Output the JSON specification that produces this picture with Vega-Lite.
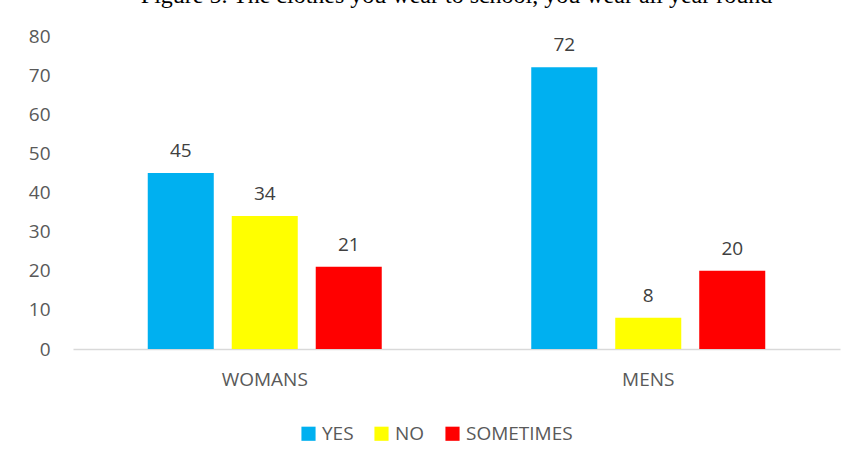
{
  "$schema": "https://vega.github.io/schema/vega-lite/v6.json",
  "autosize": "none",
  "width": 767,
  "height": 313,
  "padding": {"left": 73, "top": 36, "right": 16, "bottom": 119},
  "background": "white",
  "title": {"text": "Figure 5. The clothes you wear to school, you wear all year round", "font": "Liberation Serif", "fontSize": 24, "fontWeight": "normal", "color": "black", "anchor": "middle", "baseline": "alphabetic", "offset": 0},
  "config": {"view": {"stroke": null}, "font": "Open Sans"},
  "data": {"values": [
    {"group": "WOMANS", "answer": "YES", "value": 45},
    {"group": "WOMANS", "answer": "NO", "value": 34},
    {"group": "WOMANS", "answer": "SOMETIMES", "value": 21},
    {"group": "MENS", "answer": "YES", "value": 72},
    {"group": "MENS", "answer": "NO", "value": 8},
    {"group": "MENS", "answer": "SOMETIMES", "value": 20}
  ]},
  "encoding": {
    "x": {"field": "group", "type": "nominal", "sort": ["WOMANS", "MENS"], "scale": {"paddingInner": 0, "paddingOuter": 0},
      "axis": {"title": null, "labelAngle": 0, "labelFontSize": 19, "labelColor": "#595959", "labelPadding": 21, "ticks": false, "domainColor": "#d9d9d9", "domainWidth": 1.5}},
    "xOffset": {"field": "answer", "type": "nominal", "sort": ["YES", "NO", "SOMETIMES"], "scale": {"paddingInner": 0.214, "paddingOuter": 0.89}},
    "y": {"field": "value", "type": "quantitative", "scale": {"domain": [0, 80]},
      "axis": {"title": null, "values": [0,10,20,30,40,50,60,70,80], "labelOverlap": false, "grid": false, "domain": false, "ticks": false, "labelFontSize": 19, "labelColor": "#595959", "labelPadding": 23}}
  },
  "layer": [
    {"mark": {"type": "bar"},
     "encoding": {"color": {"field": "answer", "type": "nominal", "sort": ["YES", "NO", "SOMETIMES"],
       "scale": {"domain": ["YES", "NO", "SOMETIMES"], "range": ["#00b0f0", "#ffff00", "#ff0000"]},
       "legend": {"title": null, "orient": "none", "legendX": 226, "legendY": 388, "direction": "horizontal", "symbolType": "square", "symbolSize": 200, "symbolStrokeWidth": 0, "labelFontSize": 19, "labelColor": "#595959", "columnPadding": 18, "labelOffset": 4}}}},
    {"mark": {"type": "text", "dy": -22, "fontSize": 19, "color": "#404040"},
     "encoding": {"text": {"field": "value", "type": "quantitative"}}}
  ]
}
